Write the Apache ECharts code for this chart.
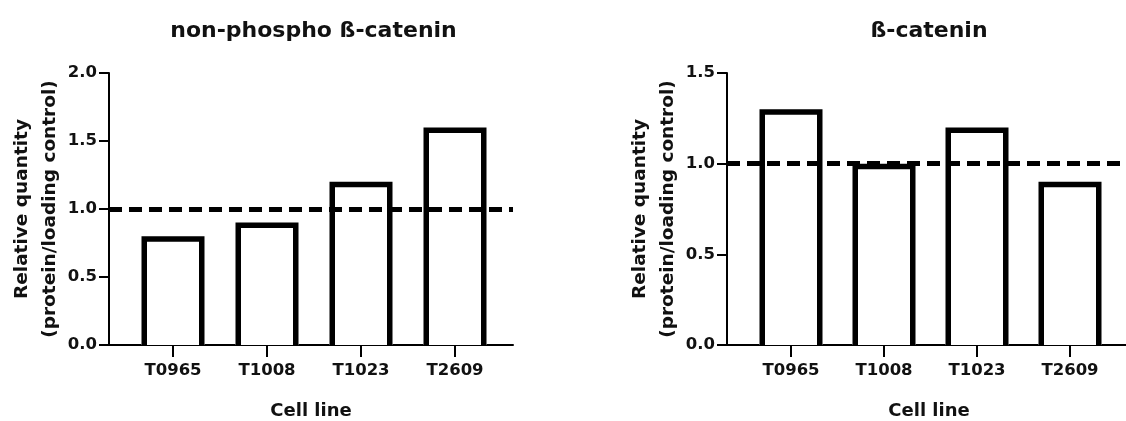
<!DOCTYPE html>
<html>
<head>
<meta charset="utf-8">
<script src="https://cdn.jsdelivr.net/npm/echarts@6/dist/echarts.min.js"></script>
<style>
html,body{margin:0;padding:0;background:#fff;}
#chart{width:1126px;height:421px;}
</style>
</head>
<body>
<div id="chart"></div>
<script>
// ---- data ----
const categories = ['T0965', 'T1008', 'T1023', 'T2609'];
const nonPhosphoCatenin = [0.8, 0.9, 1.2, 1.6];
const totalCatenin = [1.3, 1.0, 1.2, 0.9];
const titles = ['non-phospho \u00DF-catenin', '\u00DF-catenin'];
const yMaxes = [2.0, 1.5];
const yInterval = 0.5;
const referenceLevel = 1.0;
const yAxisName = 'Relative quantity\n(protein/loading control)';
const xAxisName = 'Cell line';

// ---- layout / style ----
const FONT = '"DejaVu Sans", "Liberation Sans", sans-serif';
const TXT = '#111';
const panelLeft = [109, 727];
const titleCenter = [313.5, 929];
const gridTop = 73, gridHeight = 272, gridWidth = 404;
const firstOffset = 64;
const steps = [94, 93];
const barOuterHalf = 31.5, barLine = 5.5;

function barRender(params, api) {
  const xv = api.value(0), yv = api.value(1);
  const base = api.coord([xv, 0]);
  const top = api.coord([xv, yv]);
  const cx = base[0];
  const h = barOuterHalf - barLine / 2;
  const ty = top[1] + barLine / 2;
  return {
    type: 'group',
    children: [
      { type: 'rect', shape: { x: cx - barOuterHalf, y: top[1], width: barOuterHalf * 2, height: base[1] - top[1] }, style: { fill: '#fff' } },
      { type: 'polyline', shape: { points: [[cx - h, base[1]], [cx - h, ty], [cx + h, ty], [cx + h, base[1]]] },
        style: { stroke: '#000', lineWidth: barLine, fill: null, lineJoin: 'miter' } }
    ]
  };
}

const seriesData = [nonPhosphoCatenin, totalCatenin];
const tickVals = categories.map((c, i) => i);

const option = {
  animation: false,
  backgroundColor: '#fff',
  title: titles.map((t, i) => ({
    text: t,
    left: titleCenter[i],
    top: 20,
    textAlign: 'center',
    padding: 0,
    textStyle: { fontFamily: FONT, fontSize: 22, fontWeight: 'bold', color: TXT }
  })),
  grid: panelLeft.map(l => ({
    left: l, top: gridTop, width: gridWidth, height: gridHeight,
    containLabel: false, outerBoundsMode: 'none'
  })),
  xAxis: panelLeft.map((l, i) => ({
    type: 'value', gridIndex: i,
    min: -firstOffset / steps[i], max: (gridWidth - firstOffset) / steps[i],
    name: xAxisName, nameLocation: 'middle', nameGap: 57,
    nameTextStyle: { fontFamily: FONT, fontSize: 18, fontWeight: 'bold', color: TXT },
    axisLine: { show: true, onZero: false, lineStyle: { color: '#000', width: 2 } },
    axisTick: { show: true, length: 12, lineStyle: { color: '#000', width: 2 }, customValues: tickVals },
    axisLabel: { show: true, margin: 17, fontFamily: FONT, fontSize: 16.5, fontWeight: 'bold', color: TXT,
      customValues: tickVals, formatter: v => categories[Math.round(v)] },
    splitLine: { show: false }
  })),
  yAxis: panelLeft.map((l, i) => ({
    type: 'value', gridIndex: i, min: 0, max: yMaxes[i], interval: yInterval,
    name: yAxisName, nameLocation: 'middle', nameGap: 45, nameRotate: 90,
    nameTextStyle: { fontFamily: FONT, fontSize: 18.5, fontWeight: 'bold', color: TXT, lineHeight: 28, align: 'center' },
    axisLine: { show: true, onZero: false, lineStyle: { color: '#000', width: 2 } },
    axisTick: { show: true, length: 10, lineStyle: { color: '#000', width: 2 } },
    axisLabel: { margin: 12, fontFamily: FONT, fontSize: 16.5, fontWeight: 'bold', color: TXT,
      formatter: v => v.toFixed(1) },
    splitLine: { show: false }
  })),
  series: seriesData.map((vals, i) => ({
    type: 'custom', xAxisIndex: i, yAxisIndex: i,
    renderItem: barRender,
    data: vals.map((v, j) => [j, v]),
    z: 2,
    markLine: {
      silent: true, symbol: ['none', 'none'], label: { show: false },
      lineStyle: { color: '#000', width: 5, type: [13, 7] },
      data: [{ yAxis: referenceLevel }]
    }
  }))
};

const chart = echarts.init(document.getElementById('chart'), null, { renderer: 'canvas' });
chart.setOption(option);
</script>
</body>
</html>
